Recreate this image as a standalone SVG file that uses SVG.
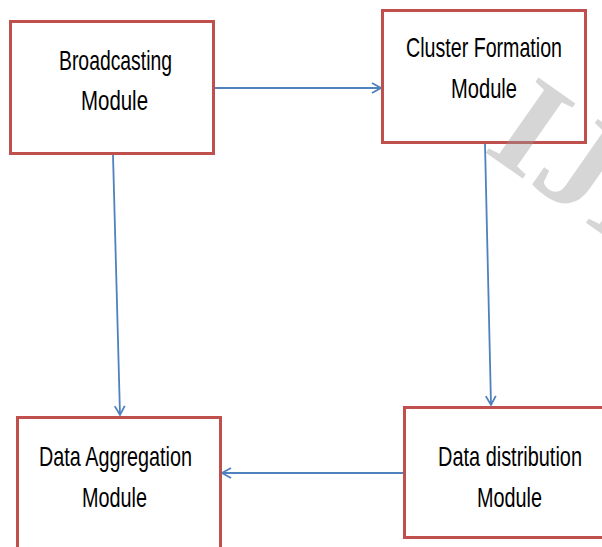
<svg xmlns="http://www.w3.org/2000/svg" width="602" height="547" viewBox="0 0 602 547">
  <style>
    .box { fill: #ffffff; stroke: #C0504D; stroke-width: 3; }
    .lbl { font-family: "Liberation Sans", Arial, sans-serif; font-size: 19.5px; fill: #000000; text-anchor: middle; }
    .conn { fill: none; stroke: #4F81BD; stroke-width: 1.8; }
    .wm { font-family: "Liberation Serif", "Times New Roman", serif; font-size: 140px; font-weight: bold; fill: #9a9a9a; opacity: 0.4; }
  </style>
  <defs>
    <marker id="arr" markerUnits="userSpaceOnUse" markerWidth="12" markerHeight="14" refX="10" refY="6" orient="auto">
      <path d="M1,1 L10,6 L1,11" fill="none" stroke="#4F81BD" stroke-width="1.8"/>
    </marker>
  </defs>
  <rect width="602" height="547" fill="#ffffff"/>
  <g id="connectors">
    <line class="conn" x1="215" y1="88" x2="381" y2="88" marker-end="url(#arr)"/>
    <line class="conn" x1="113" y1="155" x2="120" y2="415" marker-end="url(#arr)"/>
    <line class="conn" x1="485" y1="144" x2="491" y2="405" marker-end="url(#arr)"/>
    <line class="conn" x1="403" y1="473" x2="222" y2="473" marker-end="url(#arr)"/>
  </g>
  <g id="broadcasting">
    <rect class="box" x="10.5" y="21.5" width="203" height="132"/>
    <text class="lbl" transform="translate(115.5,70) scale(1,1.41)" textLength="113" lengthAdjust="spacingAndGlyphs">Broadcasting</text>
    <text class="lbl" transform="translate(114.5,110) scale(1,1.41)" textLength="67" lengthAdjust="spacingAndGlyphs">Module</text>
  </g>
  <g id="cluster">
    <rect class="box" x="382.5" y="10.5" width="203" height="132"/>
    <text class="lbl" transform="translate(484,57) scale(1,1.41)" textLength="156" lengthAdjust="spacingAndGlyphs">Cluster Formation</text>
    <text class="lbl" transform="translate(484,98) scale(1,1.41)" textLength="66" lengthAdjust="spacingAndGlyphs">Module</text>
  </g>
  <g id="aggregation">
    <rect class="box" x="17.5" y="417.5" width="203" height="140"/>
    <text class="lbl" transform="translate(115.5,466) scale(1,1.41)" textLength="153" lengthAdjust="spacingAndGlyphs">Data Aggregation</text>
    <text class="lbl" transform="translate(114.5,507) scale(1,1.41)" textLength="65" lengthAdjust="spacingAndGlyphs">Module</text>
  </g>
  <g id="distribution">
    <rect class="box" x="404.5" y="407.5" width="210" height="130"/>
    <text class="lbl" transform="translate(510,466) scale(1,1.41)" textLength="144" lengthAdjust="spacingAndGlyphs">Data distribution</text>
    <text class="lbl" transform="translate(509.5,507) scale(1,1.41)" textLength="65" lengthAdjust="spacingAndGlyphs">Module</text>
  </g>
  <g id="watermark">
    <text class="wm" transform="translate(482,150) rotate(35)">IJE</text>
  </g>
</svg>
